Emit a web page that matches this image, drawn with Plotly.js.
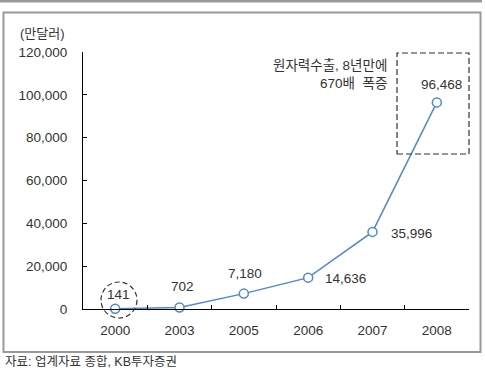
<!DOCTYPE html>
<html>
<head>
<meta charset="utf-8">
<script src="https://cdn.plot.ly/plotly-3.0.1.min.js"></script>
<style>
html,body{margin:0;padding:0;background:#fff;}
#chart{width:485px;height:387px;}
</style>
</head>
<body>
<div id="chart"></div>
<script>
const years = ['2000', '2003', '2005', '2006', '2007', '2008'];
const exportValues = [141, 702, 7180, 14636, 35996, 96468];
const valueLabels = ['141', '702', '7,180', '14,636', '35,996', '96,468'];
const unitLabel = '(만달러)';
const noteText = '원자력수출, 8년만에<br>670배  폭증';
const sourceText = '자료: 업계자료 종합, KB투자증권';

const FONT = 'Liberation Sans, Arial, Noto Sans CJK KR, sans-serif';
const TXT = '#333333';
const BLUE = '#4f86d6';

// label placement per point: [xanchor, xshift, yshift]
const labelPlace = [
  ['center', 3, 14],
  ['center', 3, 21],
  ['center', 1, 20],
  ['left', 15, -1],
  ['left', 16, -2],
  ['center', 5, 18]
];

const trace = {
  x: years,
  y: exportValues,
  type: 'scatter',
  mode: 'lines+markers',
  line: {color: BLUE, width: 1.5},
  marker: {symbol: 'circle', size: 9, color: '#ffffff', line: {color: BLUE, width: 1.5}},
  hoverinfo: 'skip',
  cliponaxis: false
};

// category axis positions are indices into years
const annotations = years.map((yr, i) => ({
  x: i, y: exportValues[i], xref: 'x', yref: 'y',
  text: valueLabels[i], showarrow: false,
  xanchor: labelPlace[i][0], yanchor: 'middle',
  xshift: labelPlace[i][1], yshift: labelPlace[i][2],
  font: {family: FONT, size: 13.5, color: TXT}
}));

annotations.push({
  xref: 'paper', yref: 'paper', x: (67 - 83) / 386, y: (309 - 33) / 257,
  text: unitLabel, showarrow: false, xanchor: 'right', yanchor: 'middle',
  font: {family: FONT, size: 13, color: TXT}
});
annotations.push({
  xref: 'paper', yref: 'paper', x: (389 - 83) / 386, y: (309 - 74) / 257,
  text: noteText, showarrow: false, xanchor: 'right', yanchor: 'middle', align: 'right',
  font: {family: FONT, size: 13.5, color: TXT}
});
annotations.push({
  xref: 'paper', yref: 'paper', x: (3 - 83) / 386, y: (309 - 362) / 257,
  text: sourceText, showarrow: false, xanchor: 'left', yanchor: 'middle',
  font: {family: FONT, size: 12.5, color: TXT}
});

const px = v => (v - 83) / 386;
const py = v => (309 - v) / 257;

const shapes = [
  // top gray rule
  {type: 'line', xref: 'paper', yref: 'paper', x0: px(0), x1: px(482), y0: py(1), y1: py(1),
   line: {color: '#999999', width: 3}, layer: 'below'},
  // outer frame
  {type: 'rect', xref: 'paper', yref: 'paper', x0: px(3.5), x1: px(480.5), y0: py(12.5), y1: py(352),
   line: {color: '#999999', width: 2}, layer: 'below'},
  // dashed circle around 2000
  {type: 'circle', xref: 'paper', yref: 'paper',
   x0: px(101), x1: px(137), y0: py(318), y1: py(282),
   line: {color: '#333333', width: 1.2, dash: '5px,3px'}},
  // dashed box around 2008
  {type: 'rect', xref: 'paper', yref: 'paper',
   x0: px(397), x1: px(469), y0: py(154), y1: py(53),
   line: {color: '#333333', width: 1.2, dash: '6px,3px'}}
];

const layout = {
  width: 485, height: 387,
  margin: {l: 83, r: 16, t: 52, b: 78, pad: 0},
  paper_bgcolor: '#ffffff', plot_bgcolor: '#ffffff',
  showlegend: false,
  font: {family: FONT, size: 13.5, color: TXT},
  xaxis: {
    type: 'category', range: [-0.5, 5.5],
    showline: true, linecolor: '#000000', linewidth: 1,
    showgrid: false, zeroline: false,
    ticks: 'inside', tickson: 'boundaries', ticklen: 4, tickcolor: '#000000',
    tickfont: {family: FONT, size: 13.5, color: TXT},
    ticklabelstandoff: 9,
    fixedrange: true
  },
  yaxis: {
    range: [0, 120000], dtick: 20000, tick0: 0,
    tickformat: ',d',
    showline: true, linecolor: '#000000', linewidth: 1,
    showgrid: false, zeroline: false,
    ticks: 'inside', ticklen: 4, tickcolor: '#000000',
    tickfont: {family: FONT, size: 13.5, color: TXT},
    ticklabelstandoff: 12,
    fixedrange: true
  },
  annotations: annotations,
  shapes: shapes
};

Plotly.newPlot('chart', [trace], layout, {displayModeBar: false, staticPlot: true});
</script>
</body>
</html>
